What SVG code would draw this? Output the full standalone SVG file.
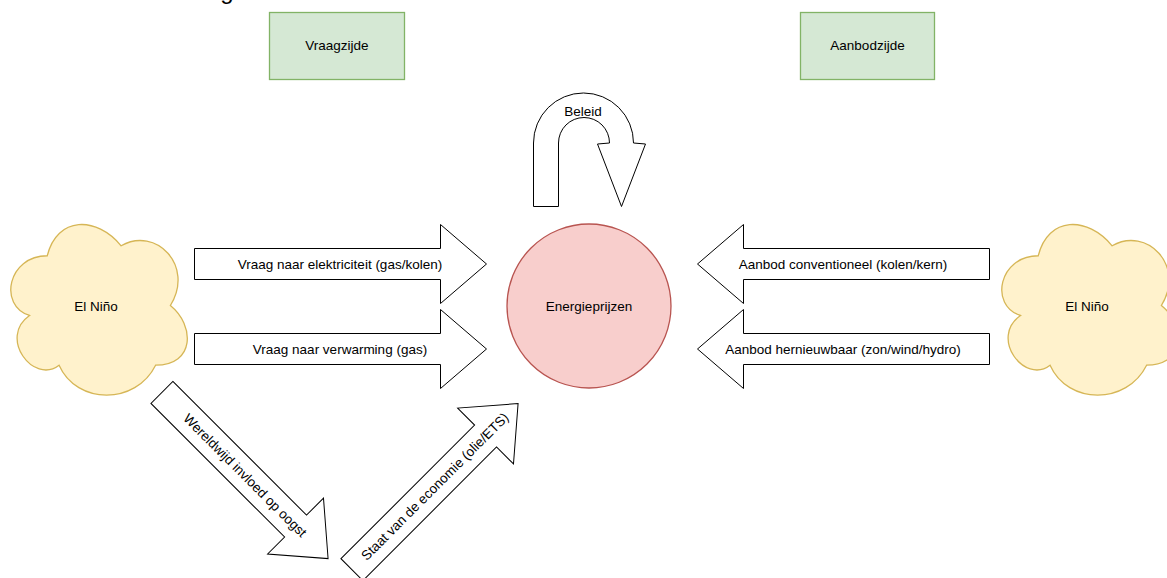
<svg xmlns="http://www.w3.org/2000/svg" width="1167" height="578" viewBox="0 0 1167 578">
  <style>
    text { font-family: "Liberation Sans", Arial, Helvetica, sans-serif; font-size: 13.5px; fill: #000; text-anchor: middle; dominant-baseline: central; }
    .side { fill: #d5e8d4; stroke: #82b366; stroke-width: 1.3; }
    .cloud { fill: #fff2cc; stroke: #d6b656; stroke-width: 1.3; }
    .price { fill: #f8cecc; stroke: #b85450; stroke-width: 1.3; }
    .arrow { fill: #ffffff; stroke: #000000; stroke-width: 1; stroke-linejoin: miter; }
  </style>
  <defs>
    <path id="cloudShape" d="M47.25,255.75 C7.85,255.75 -2,305.5 29.52,315.45 C-2,337.34 33.46,385.1 59.07,365.2 C76.8,405 135.9,405 155.6,365.2 C195,365.2 195,325.4 170.375,305.5 C195,265.7 155.6,225.9 121.125,245.8 C96.5,215.95 57.1,215.95 47.25,255.75 Z"/>
    <path id="diagArrow" d="M-117.5,-15.5 H71.5 V-39.5 L117.5,0 L71.5,39.5 V15.5 H-117.5 Z"/>
  </defs>
  <rect width="1167" height="578" fill="#ffffff"/>

  <text x="227" y="-1.5" style="font-size:24px;dominant-baseline:alphabetic">g</text>

  <g id="vraagzijde">
    <rect class="side" x="269.5" y="12.5" width="135" height="67"/>
    <text x="337" y="45.5">Vraagzijde</text>
  </g>
  <g id="aanbodzijde">
    <rect class="side" x="800.5" y="12.5" width="134" height="67"/>
    <text x="867.5" y="45.5">Aanbodzijde</text>
  </g>

  <g id="elnino-left">
    <use href="#cloudShape" class="cloud"/>
    <text x="96" y="306">El Niño</text>
  </g>
  <g id="elnino-right">
    <use href="#cloudShape" class="cloud" transform="translate(991,0)"/>
    <text x="1087" y="306">El Niño</text>
  </g>

  <g id="energieprijzen">
    <circle class="price" cx="589" cy="306" r="82"/>
    <text x="589" y="306">Energieprijzen</text>
  </g>

  <g id="connectors">
    <g id="beleid">
      <path class="arrow" d="M533.5,206.5 L533.5,143 A50,50 0 0 1 633.5,143 L645.5,144 L621.5,206.5 L597.5,144 L609.5,143 A25.5,25.5 0 0 0 558.5,143 L558.5,206.5 Z"/>
      <text x="583" y="111">Beleid</text>
    </g>
    <g id="vraag-elektriciteit">
      <path class="arrow" d="M194.5,248.5 H440.5 V224.5 L486.5,264 L440.5,303.5 V279.5 H194.5 Z"/>
      <text x="340" y="264">Vraag naar elektriciteit (gas/kolen)</text>
    </g>
    <g id="vraag-verwarming">
      <path class="arrow" d="M194.5,333.5 H440.5 V309.5 L486.5,349 L440.5,388.5 V364.5 H194.5 Z"/>
      <text x="340" y="349">Vraag naar verwarming (gas)</text>
    </g>
    <g id="aanbod-conventioneel">
      <path class="arrow" d="M989.5,248.5 H743.5 V224.5 L697.5,264 L743.5,303.5 V279.5 H989.5 Z"/>
      <text x="843" y="264">Aanbod conventioneel (kolen/kern)</text>
    </g>
    <g id="aanbod-hernieuwbaar">
      <path class="arrow" d="M989.5,333.5 H743.5 V309.5 L697.5,349 L743.5,388.5 V364.5 H989.5 Z"/>
      <text x="843" y="349">Aanbod hernieuwbaar (zon/wind/hydro)</text>
    </g>
    <g id="oogst" transform="translate(245,475.5) rotate(45)">
      <use href="#diagArrow" class="arrow"/>
      <text x="0" y="0">Wereldwijd invloed op oogst</text>
    </g>
    <g id="economie" transform="translate(435,486.6) rotate(-45)">
      <use href="#diagArrow" class="arrow"/>
      <text x="0" y="0">Staat van de economie (olie/ETS)</text>
    </g>
  </g>
</svg>
